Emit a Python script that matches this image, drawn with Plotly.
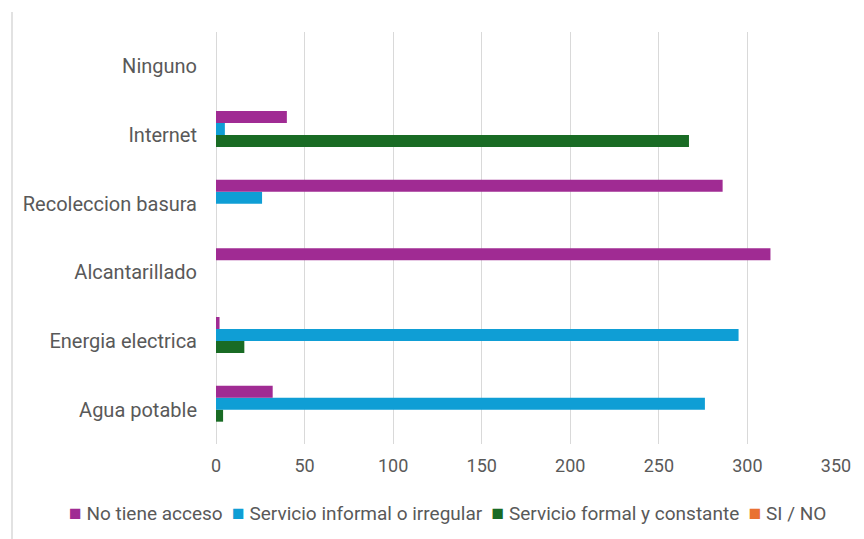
import plotly.graph_objects as go

# Servicios públicos: número de respuestas por tipo de acceso
categorias = ["Agua potable", "Energia electrica", "Alcantarillado",
              "Recoleccion basura", "Internet", "Ninguno"]

no_tiene_acceso = [32, 2, 313, 286, 40, 0]
servicio_informal = [276, 295, 0, 26, 5, 0]
servicio_formal = [4, 16, 0, 0, 267, 0]
si_no = [0, 0, 0, 0, 0, 0]

x_ticks = [0, 50, 100, 150, 200, 250, 300, 350]

series = [
    ("No tiene acceso", no_tiene_acceso, "#A02B93"),
    ("Servicio informal o irregular", servicio_informal, "#0F9ED5"),
    ("Servicio formal y constante", servicio_formal, "#196B24"),
    ("SI / NO", si_no, "#E97132"),
]

FONT = "Roboto"
GRAY = "#595959"

fig = go.Figure()
# bottom-most bar of each group is added first, so the first series sits on top
for nombre, valores, color in reversed(series):
    fig.add_trace(go.Bar(
        y=categorias, x=valores, name=nombre, orientation="h",
        marker=dict(color=color, line=dict(width=0)),
    ))

# compact one-line key below the axis: coloured square + series name
key_items = [
    f'<span style="color:{color};font-size:21px">■</span> {nombre}'
    for nombre, _, color in series
]
key_text = "  ".join(key_items)

fig.update_layout(
    width=864, height=539,
    margin=dict(l=216, r=28, t=32, b=95),
    paper_bgcolor="white", plot_bgcolor="white",
    barmode="group", bargap=0.30, bargroupgap=0,
    font=dict(family=FONT, size=19, color=GRAY),
    showlegend=False,
    xaxis=dict(
        range=[0, 350], tickvals=x_ticks, showgrid=True,
        gridcolor="#D9D9D9", gridwidth=1, zeroline=True,
        zerolinecolor="#D9D9D9", zerolinewidth=1, showline=False,
        ticks="", ticklabelstandoff=9,
        tickfont=dict(family=FONT, size=18, color=GRAY),
    ),
    yaxis=dict(
        categoryorder="array", categoryarray=categorias,
        showgrid=False, zeroline=False, showline=False, ticks="",
        ticklabelstandoff=18,
        tickfont=dict(family=FONT, size=20, color=GRAY),
    ),
    annotations=[dict(
        text=key_text, xref="paper", yref="paper",
        x=(447 - 216) / 620, xanchor="center",
        y=-(513 - 444) / 412, yanchor="middle",
        showarrow=False, font=dict(family=FONT, size=19, color=GRAY),
    )],
    shapes=[dict(
        type="line", xref="paper", yref="paper",
        x0=(12 - 216) / 620, x1=(12 - 216) / 620,
        y0=1 + 20 / 412, y1=-95 / 412,
        line=dict(color="#D9D9D9", width=1.5),
    )],
)

fig.write_html("out.html")
